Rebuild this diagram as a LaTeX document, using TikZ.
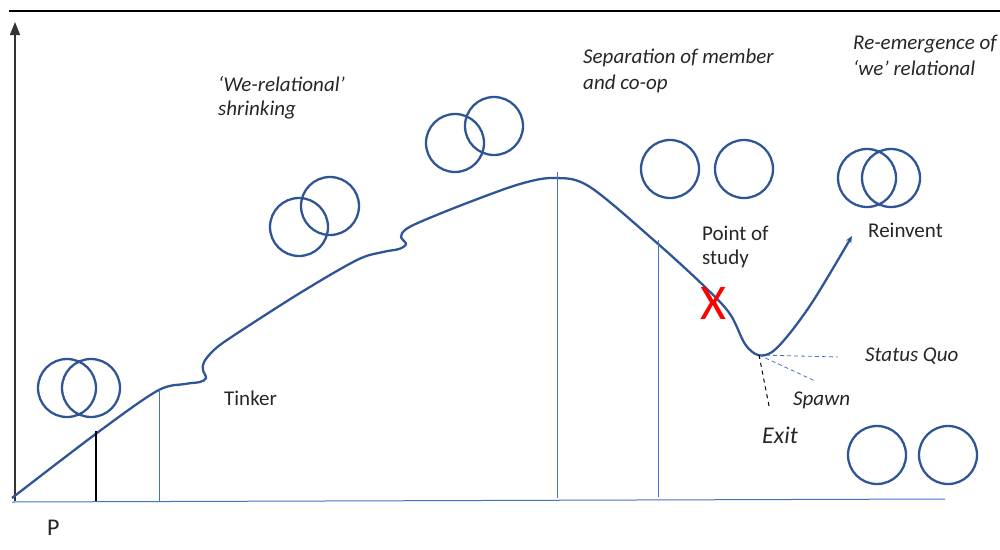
\documentclass[tikz,border=0pt]{standalone}
\usepackage{fontspec}
\setmainfont{Carlito}
\usetikzlibrary{arrows.meta,positioning}
\definecolor{curveblue}{HTML}{2F5597}
\definecolor{thinblue}{HTML}{4472C4}
\definecolor{txt}{HTML}{262626}

\begin{document}
\begin{tikzpicture}[x=1pt,y=-1pt,>=Stealth,
 ring/.style={draw=curveblue,line width=2.3pt,circle,minimum size=58pt,inner sep=0pt},
 lbl/.style={inner sep=0pt,text=txt,font=\fontsize{21}{24}\selectfont},
 itl/.style={lbl,font=\fontsize{21}{24}\selectfont\itshape},
 marker/.style={draw=thinblue,line width=0.8pt}]
 \useasboundingbox (0,0) rectangle (1000,549);
 % frame and axes
 \coordinate (tl) at (9,11);
 \coordinate (tr) at (1000,11);
 \draw[line width=2pt] (tl)--(tr);
 \coordinate (o) at (15,501);
 \coordinate (ytop) at (15,22);
 \coordinate (xend) at (945,499);
 \draw[line width=1.1pt,-{Triangle[length=13pt,width=10pt]},black!80] (o)--(ytop);
 \draw[thinblue,line width=1pt] (12,502)--(xend);
 % the path
 \draw[curveblue,line width=2.3pt,-{Stealth[length=7pt,width=6pt]}] plot[smooth,tension=0.55] coordinates {
 (12,498) (97,433) (157,391) (185,384) (200,382) (206,378) (203,370) (204,362)
 (214,350) (233,336) (300,293) (357,260) (383,252) (399,249) (406,244) (401,237)
 (405,230) (420,222) (467,203) (520,184) (555,178) (590,187) (657,243) (705,287)
 (730,314) (745,344) (758,355) (772,352) (790,333) (815,298) (852,236)};
 % stages
 \coordinate (s0t) at (96,431); \coordinate (s0b) at (96,501);
 \draw[line width=1.6pt] (s0t)--(s0b);
 \coordinate (s1t) at (159,390); \coordinate (s1b) at (159,502);
 \coordinate (s2t) at (557,172); \coordinate (s2b) at (557,498);
 \coordinate (s3t) at (658,240); \coordinate (s3b) at (658,497);
 \draw[marker] (s1t)--(s1b);
 \draw[marker] (s2t)--(s2b);
 \draw[marker] (s3t)--(s3b);
 % exits from the dip
 \coordinate (low) at (759,355);
 \coordinate (sq) at (838,357);
 \coordinate (sp) at (815,381);
 \coordinate (ex) at (769,406);
 \draw[thinblue,line width=0.8pt,dash pattern=on 4pt off 3pt] (low)--(sq);
 \draw[thinblue,line width=0.8pt,dash pattern=on 4pt off 3pt] (low)--(sp);
 \draw[line width=1pt,dash pattern=on 4pt off 4pt] (low)--(ex);
 % circles
 \node[ring] (a1) at (67,388) {};
 \node[ring] (a2) at (91,388) {};
 \node[ring] (b1) at (299,227) {};
 \node[ring] (b2) at (330,206) {};
 \node[ring] (c1) at (455,143) {};
 \node[ring] (c2) at (494,126) {};
 \node[ring] (d1) at (670,169) {};
 \node[ring] (d2) at (744,169) {};
 \node[ring] (e1) at (867,178) {};
 \node[ring] (e2) at (891,178) {};
 \node[ring] (f1) at (877,455) {};
 \node[ring] (f2) at (948,455) {};
 % labels
 \node[itl,anchor=north west,align=left] (shrink) at (218,76) {`We-relational'\\shrinking};
 \node[itl,anchor=north west,align=left,font=\fontsize{21}{26}\selectfont\itshape] (separ) at (583,49) {Separation of member\\and co-op};
 \node[itl,anchor=north west,align=left,font=\fontsize{21}{26}\selectfont\itshape] (reem) at (853,35) {Re-emergence of\\`we' relational};
 \node[lbl,anchor=north west,align=left,font=\fontsize{21}{24}\selectfont] (study) at (702,226) {Point of\\study};
 \node[lbl,anchor=base west] (reinv) at (868,237) {Reinvent};
 \node[lbl,anchor=base west] (tinker) at (224,405) {Tinker};
 \node[itl,anchor=base west] (squo) at (865,361) {Status Quo};
 \node[itl,anchor=base west] (spawn) at (793,405) {Spawn};
 \node[itl,anchor=base west,font=\fontsize{24}{26}\selectfont\itshape] (exit) at (762,443) {Exit};
 \node[lbl,anchor=base west,font=\fontsize{24}{26}\selectfont] (p) at (47,535) {P};
 \node[inner sep=0pt,text=red,font=\fontsize{50}{50}\selectfont] (x) at (713,303) {X};
\end{tikzpicture}
\end{document}
